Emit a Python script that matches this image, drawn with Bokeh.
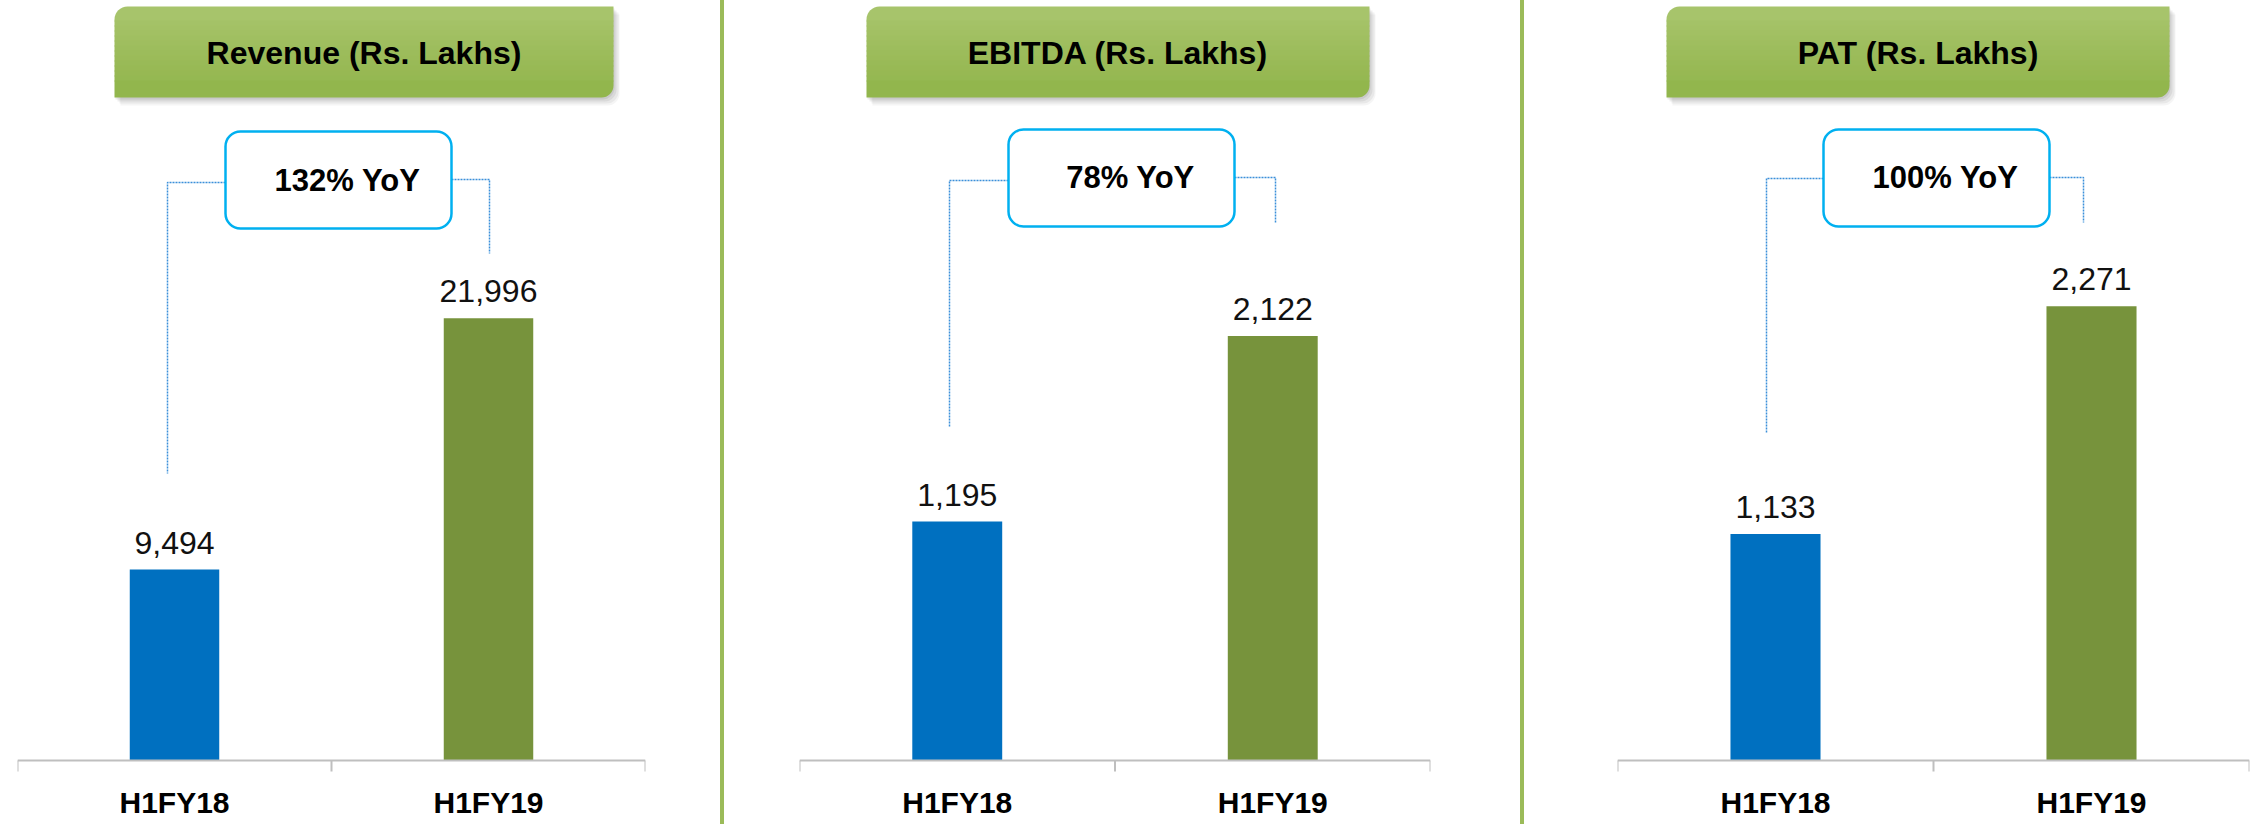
from bokeh.plotting import figure
from bokeh.models import (ColumnDataSource, FactorRange, Range1d, BoxAnnotation,
                          Label, LabelSet, CategoricalAxis, Div)
from bokeh.layouts import row
from bokeh.embed import file_html
from bokeh.resources import INLINE
from bokeh.core.properties import value

# ---------------- data ----------------
categories = ["H1FY18", "H1FY19"]
panel_titles = ["Revenue (Rs. Lakhs)", "EBITDA (Rs. Lakhs)", "PAT (Rs. Lakhs)"]
revenue = [9494, 21996]
ebitda = [1195, 2122]
pat = [1133, 2271]
yoy_growth = ["132% YoY", "78% YoY", "100% YoY"]
axis_max = [37800, 3800, 3800]

# ---------------- styles ----------------
FONT = "Liberation Sans"
BAR_COLORS = ["#0070C0", "#77933C"]
AXIS_COLOR = "#BFBFBF"
SEP_COLOR = "#9BBB59"
TITLE_TOP_RGB = (169, 197, 110)
TITLE_BOT_RGB = (144, 180, 74)
YOY_BORDER = "#00B0F0"
CONNECTOR = "#3B8FD9"

# ---------------- layout (page pixels) ----------------
PAGE_TOP = 0
FIG_H = 824
BASE_Y = 760          # page y of the category axis line
TITLE_TOP, TITLE_BOT = 6, 97
LAYOUT = [
    dict(fig_left=0, fig_w=720, frame_left=17, frame_right=645,
         title_box=(114, 613), title_y=52,
         yoy_box=(225, 451, 131, 228), yoy_text=(347, 180),
         conn_left=(167, 182, 473), conn_right=(489, 179, 253)),
    dict(fig_left=724, fig_w=796, frame_left=799, frame_right=1430,
         title_box=(866, 1369), title_y=52,
         yoy_box=(1008, 1234, 129, 226), yoy_text=(1130, 177),
         conn_left=(949, 180, 426), conn_right=(1275, 177, 223)),
    dict(fig_left=1524, fig_w=728, frame_left=1617, frame_right=2249,
         title_box=(1666, 2169), title_y=52,
         yoy_box=(1823, 2049, 129, 226), yoy_text=(1945, 177),
         conn_left=(1766, 178, 432), conn_right=(2083, 177, 222)),
]


def rgb_hex(c):
    return "#%02x%02x%02x" % tuple(int(round(v)) for v in c)


def build(i, vals):
    L = LAYOUT[i]
    k = (BASE_Y - PAGE_TOP) / axis_max[i]            # px per unit
    y_start = -(PAGE_TOP + FIG_H - BASE_Y) / k
    n = len(categories)
    cell = (L["frame_right"] - L["frame_left"]) / n

    def X(px):
        return (px - L["frame_left"]) / cell

    def Y(py):
        return (BASE_Y - py) / k

    p = figure(width=L["fig_w"], height=FIG_H,
               x_range=FactorRange(factors=categories, range_padding=0),
               y_range=Range1d(y_start, axis_max[i]),
               output_backend="svg", toolbar_location=None, title=None,
               x_axis_location=None, y_axis_location=None,
               min_border_left=L["frame_left"] - L["fig_left"],
               min_border_right=L["fig_left"] + L["fig_w"] - L["frame_right"],
               min_border_top=0, min_border_bottom=0,
               outline_line_color=None,
               background_fill_color="white", border_fill_color="white")
    p.xgrid.visible = False
    p.ygrid.visible = False

    # ---- bars ----
    src = ColumnDataSource(dict(cat=categories, val=vals, color=BAR_COLORS,
                                label=[f"{v:,}" for v in vals]))
    p.vbar(x="cat", top="val", width=0.285, bottom=0, source=src,
           fill_color="color", line_color=None)

    # ---- axis boundary ticks ----
    bounds = list(range(n + 1))
    p.segment(x0=bounds, x1=bounds, y0=[0] * len(bounds), y1=[-11 / k] * len(bounds),
              line_color=AXIS_COLOR, line_width=2)

    # ---- dotted connectors ----
    l, r, t, b = L["yoy_box"]
    cx, cy, cb = L["conn_left"]
    p.line(x=[X(l), X(cx), X(cx)], y=[Y(cy), Y(cy), Y(cb)],
           line_color=CONNECTOR, line_width=1.5, line_dash="2 1")
    cx, cy, cb = L["conn_right"]
    p.line(x=[X(r), X(cx), X(cx)], y=[Y(cy), Y(cy), Y(cb)],
           line_color=CONNECTOR, line_width=1.5, line_dash="2 1")

    # ---- title box: shadow + gradient strips ----
    tl, tr = L["title_box"]
    shape = dict(top_left=13, top_right=0, bottom_right=12, bottom_left=0)
    for dx, dy, a in [(1, 2, 0.10), (3, 4, 0.09), (5, 6, 0.07), (6, 8, 0.05)]:
        p.add_layout(BoxAnnotation(left=X(tl + dx), right=X(tr + dx),
                                   top=Y(TITLE_TOP + dy), bottom=Y(TITLE_BOT + dy),
                                   fill_color="#404040", fill_alpha=a, line_color=None,
                                   border_radius=shape))
    edges = [TITLE_TOP] + list(range(TITLE_TOP + 14, TITLE_BOT - 12, 5)) + [TITLE_BOT]
    for j in range(len(edges) - 1):
        top = edges[j]
        last = j == len(edges) - 2
        bot = edges[j + 1] + (0 if last else 1)
        tfrac = ((top + bot) / 2 - TITLE_TOP) / (TITLE_BOT - TITLE_TOP)
        col = [a + (bb - a) * tfrac for a, bb in zip(TITLE_TOP_RGB, TITLE_BOT_RGB)]
        rad = dict(top_left=13 if j == 0 else 0, top_right=0,
                   bottom_right=12 if last else 0, bottom_left=0)
        p.add_layout(BoxAnnotation(left=X(tl), right=X(tr), top=Y(top), bottom=Y(bot),
                                   fill_color=rgb_hex(col), fill_alpha=1.0, line_color=None,
                                   border_radius=rad))
    p.add_layout(Label(x=X((tl + tr) / 2), y=Y(L["title_y"]), text=panel_titles[i],
                       text_align="center", text_baseline="middle",
                       text_font=FONT, text_font_style="bold", text_font_size="32px",
                       text_color="#000000"))

    # ---- YoY box ----
    p.add_layout(BoxAnnotation(left=X(l), right=X(r), top=Y(t), bottom=Y(b),
                               fill_color="white", fill_alpha=1.0,
                               line_color=YOY_BORDER, line_width=2.5, line_alpha=1.0,
                               border_radius=15))
    yx, yy = L["yoy_text"]
    p.add_layout(Label(x=X(yx), y=Y(yy), text=yoy_growth[i],
                       text_align="center", text_baseline="middle",
                       text_font=FONT, text_font_style="bold", text_font_size="31px",
                       text_color="#000000"))

    # ---- value labels ----
    p.add_layout(LabelSet(x="cat", y="val", text="label", source=src,
                          y_offset=27, text_align="center", text_baseline="middle",
                          text_font=value(FONT), text_font_size=value("32px"),
                          text_color="#111111"))

    # ---- category axis (fixed at y = 0) ----
    ax = CategoricalAxis(fixed_location=0,
                         axis_line_color=AXIS_COLOR, axis_line_width=2,
                         major_tick_line_color=None, major_tick_in=0, major_tick_out=0,
                         minor_tick_line_color=None,
                         major_label_standoff=25,
                         major_label_text_font=FONT, major_label_text_font_style="bold",
                         major_label_text_font_size="30px", major_label_text_color="#000000")
    p.add_layout(ax, "below")
    return p


def separator():
    return Div(text="", width=4, height=FIG_H, margin=0,
               styles={"background-color": SEP_COLOR})


f1 = build(0, revenue)
f2 = build(1, ebitda)
f3 = build(2, pat)
layout = row(f1, separator(), f2, separator(), f3, spacing=0)

open("out.html", "w").write(file_html(layout, INLINE))
